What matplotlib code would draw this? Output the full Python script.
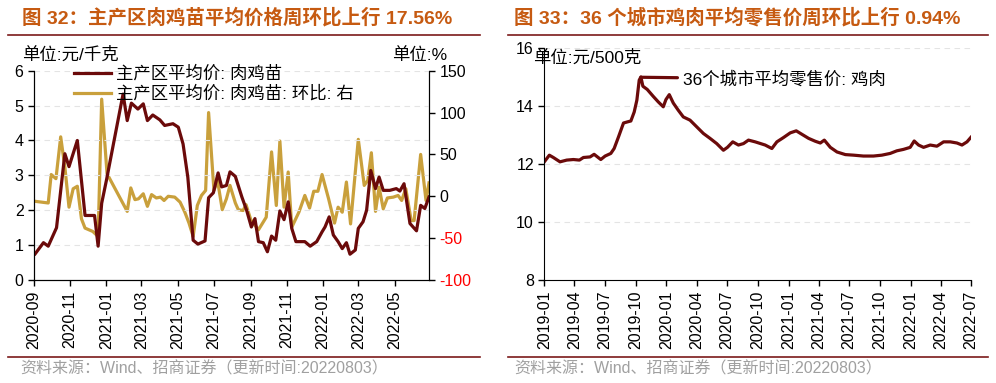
"""
Broiler chick price (main producing areas) and 36-city retail chicken price.
"""

import pandas as pd
import matplotlib
matplotlib.use("Agg")
import matplotlib.pyplot as plt
import matplotlib.dates as mdates

plt.rcParams['font.family'] = ['Liberation Sans', 'Noto Sans CJK SC']
plt.rcParams['axes.unicode_minus'] = False

# ---- left chart: chick price (yuan/kg) ----
chick_dates = [
    '2020-09-03', '2020-09-17', '2020-09-25', '2020-10-09', '2020-10-23', '2020-10-30',
    '2020-11-13', '2020-11-26', '2020-12-12', '2020-12-18', '2020-12-24', '2021-01-01',
    '2021-01-29', '2021-02-05', '2021-02-12', '2021-02-23', '2021-03-04', '2021-03-11',
    '2021-03-20', '2021-04-01', '2021-04-09', '2021-04-23', '2021-05-02', '2021-05-10',
    '2021-05-18', '2021-05-27', '2021-06-04', '2021-06-16', '2021-06-22', '2021-06-30',
    '2021-07-08', '2021-07-14', '2021-07-22', '2021-07-28', '2021-08-06', '2021-08-17',
    '2021-08-25', '2021-09-02', '2021-09-08', '2021-09-14', '2021-09-22', '2021-09-29',
    '2021-10-06', '2021-10-13', '2021-10-20', '2021-10-27', '2021-11-03', '2021-11-09',
    '2021-11-16', '2021-12-01', '2021-12-10', '2021-12-21', '2021-12-30', '2022-01-04',
    '2022-01-11', '2022-01-18', '2022-01-26', '2022-02-02', '2022-02-09', '2022-02-15',
    '2022-02-24', '2022-03-01', '2022-03-09', '2022-03-15', '2022-03-22', '2022-03-30',
    '2022-04-05', '2022-04-12', '2022-04-23', '2022-05-04', '2022-05-10', '2022-05-17',
    '2022-05-27', '2022-06-07', '2022-06-14', '2022-06-21', '2022-06-28',
]
chick_price = [
    0.75, 1.07, 0.97, 1.50, 3.62, 3.25,
    4.00, 1.85, 1.85, 0.97, 2.20, 2.86,
    5.33, 4.57, 5.07, 4.90, 5.05, 4.57,
    4.73, 4.59, 4.43, 4.48, 4.38, 3.90,
    2.95, 1.14, 1.03, 1.12, 2.36, 2.50,
    3.07, 2.67, 2.71, 3.10, 2.97, 2.38,
    2.00, 1.52, 1.76, 1.10, 1.07, 0.81,
    1.26, 1.14, 1.98, 1.73, 2.24, 1.48,
    1.10, 1.10, 0.97, 1.10, 1.38, 1.52,
    1.81, 1.29, 1.10, 0.90, 1.07, 0.74,
    0.86, 1.48, 1.67, 2.00, 3.14, 2.62,
    2.95, 2.57, 2.57, 2.62, 2.55, 2.76,
    1.62, 1.41, 2.14, 2.05, 2.38,
]

# week-on-week change (%), right axis
wow_dates = [
    '2020-09-03', '2020-09-25', '2020-09-30', '2020-10-08', '2020-10-16', '2020-10-23',
    '2020-10-30', '2020-11-06', '2020-11-13', '2020-11-20', '2020-11-26', '2020-12-09',
    '2020-12-18', '2020-12-24', '2021-01-02', '2021-02-05', '2021-02-11', '2021-02-18',
    '2021-02-24', '2021-03-04', '2021-03-11', '2021-03-18', '2021-03-26', '2021-04-02',
    '2021-04-08', '2021-04-15', '2021-04-26', '2021-05-05', '2021-05-13', '2021-05-20',
    '2021-05-27', '2021-06-03', '2021-06-10', '2021-06-17', '2021-06-22', '2021-07-01',
    '2021-07-07', '2021-07-15', '2021-07-22', '2021-07-28', '2021-08-06', '2021-08-11',
    '2021-08-19', '2021-08-24', '2021-09-01', '2021-09-14', '2021-09-27', '2021-10-06',
    '2021-10-14', '2021-10-20', '2021-10-27', '2021-11-03', '2021-11-09', '2021-11-21',
    '2021-12-01', '2021-12-09', '2021-12-16', '2021-12-23', '2021-12-30', '2022-01-10',
    '2022-01-20', '2022-01-26', '2022-02-02', '2022-02-09', '2022-02-16', '2022-03-01',
    '2022-03-11', '2022-03-17', '2022-03-23', '2022-03-30', '2022-04-05', '2022-04-12',
    '2022-04-19', '2022-04-29', '2022-05-07', '2022-05-13', '2022-05-20', '2022-05-29',
    '2022-06-03', '2022-06-14', '2022-06-23', '2022-06-28',
]
wow_pct = [
    -6, -8, 26, 21, 71, 35,
    -13, 9, 12, -27, -38, -42,
    -48, 116, 27, -18, 10, -4,
    -3, 3, -12, 2, -2, -1,
    -5, 0, -1, -7, -19, -32,
    -48, -11, 1, 7, 100, 7,
    19, -16, -3, 13, -8, -16,
    -17, -10, -28, -40, -25, 53,
    -11, 66, -13, 29, -37, -19,
    1, -14, 6, 6, 26, -3,
    -32, -13, -19, 17, -33, 68,
    13, 19, 52, -18, 11, -15,
    -2, -1, 1, -5, 9, -29,
    -29, 50, -5, 16,
]

# ---- right chart: 36-city average retail price, chicken (yuan/500g) ----
retail_dates = [
    '2019-01-01', '2019-01-16', '2019-01-28', '2019-02-17', '2019-03-09', '2019-03-29',
    '2019-04-16', '2019-04-28', '2019-05-18', '2019-05-30', '2019-06-09', '2019-06-19',
    '2019-07-02', '2019-07-19', '2019-07-29', '2019-08-11', '2019-08-26', '2019-09-07',
    '2019-09-17', '2019-09-27', '2019-10-05', '2019-10-12', '2019-10-17', '2019-10-23',
    '2019-11-05', '2019-11-23', '2019-12-08', '2019-12-23', '2019-12-31', '2020-01-10',
    '2020-01-22', '2020-02-06', '2020-02-21', '2020-03-12', '2020-04-01', '2020-04-21',
    '2020-05-11', '2020-05-31', '2020-06-20', '2020-07-02', '2020-07-18', '2020-08-04',
    '2020-08-19', '2020-09-03', '2020-09-23', '2020-10-23', '2020-11-12', '2020-11-27',
    '2020-12-17', '2021-01-06', '2021-01-24', '2021-02-10', '2021-03-02', '2021-03-22',
    '2021-04-06', '2021-04-18', '2021-05-06', '2021-05-26', '2021-06-20', '2021-07-15',
    '2021-08-13', '2021-09-12', '2021-10-07', '2021-11-01', '2021-11-21', '2021-12-11',
    '2021-12-31', '2022-01-12', '2022-01-25', '2022-02-09', '2022-03-01', '2022-03-21',
    '2022-04-10', '2022-04-30', '2022-05-20', '2022-06-04', '2022-06-19', '2022-07-01',
]
retail_price = [
    12.08, 12.31, 12.23, 12.08, 12.14, 12.16,
    12.14, 12.23, 12.25, 12.34, 12.25, 12.16,
    12.28, 12.37, 12.54, 12.94, 13.42, 13.46,
    13.49, 13.80, 14.21, 14.90, 15.01, 14.69,
    14.58, 14.34, 14.15, 13.98, 14.23, 14.40,
    14.11, 13.86, 13.63, 13.52, 13.29, 13.06,
    12.89, 12.71, 12.48, 12.58, 12.77, 12.66,
    12.71, 12.83, 12.77, 12.66, 12.54, 12.77,
    12.92, 13.08, 13.15, 13.03, 12.89, 12.79,
    12.73, 12.83, 12.58, 12.42, 12.33, 12.31,
    12.28, 12.28, 12.31, 12.37, 12.46, 12.51,
    12.58, 12.80, 12.66, 12.58, 12.66, 12.62,
    12.77, 12.77, 12.73, 12.66, 12.77, 12.93,
]

left_ticks = ['2020-09', '2020-11', '2021-01', '2021-03', '2021-05', '2021-07',
              '2021-09', '2021-11', '2022-01', '2022-03', '2022-05']
right_ticks = ['2019-01', '2019-04', '2019-07', '2019-10', '2020-01', '2020-04',
               '2020-07', '2020-10', '2021-01', '2021-04', '2021-07', '2021-10',
               '2022-01', '2022-04', '2022-07']

BROWN = '#6B0A0A'
GOLD = '#C9A03C'
TITLE_C = '#C65A11'
RULE_C = '#7B1A1A'
GRID_C = '#E4E4E4'
TICK_FS = 11.5
TEXT_FS = 12.5
LW = 2.3


def style_axis(ax):
    ax.spines['top'].set_visible(False)
    ax.tick_params(axis='both', labelsize=TICK_FS, direction='out', length=4, width=1)
    ax.tick_params(axis='x', rotation=90)
    ax.yaxis.grid(True, color=GRID_C, linestyle=(0, (5, 4)), linewidth=0.8)
    ax.set_axisbelow(True)


fig = plt.figure(figsize=(9.96, 3.83), dpi=100)

# ---------------- left ----------------
ax1 = fig.add_axes([0.0341, 0.2689, 0.3966, 0.5465])
ax2 = ax1.twinx()
ax1.set_zorder(ax2.get_zorder() + 1)
ax1.patch.set_visible(False)

d1 = pd.to_datetime(chick_dates)
d2 = pd.to_datetime(wow_dates)
l1, = ax1.plot(d1, chick_price, color=BROWN, lw=LW, label='主产区平均价: 肉鸡苗')
l2, = ax2.plot(d2, wow_pct, color=GOLD, lw=LW, label='主产区平均价: 肉鸡苗: 环比: 右')

ax1.set_ylim(0, 6)
ax1.set_yticks(range(0, 7))
ax2.set_ylim(-100, 150)
ax2.set_yticks(range(-100, 151, 50))
ax1.set_xlim(pd.Timestamp('2020-09-01'), pd.Timestamp('2022-06-28'))
ax1.set_xticks(pd.to_datetime(left_ticks))
ax1.xaxis.set_major_formatter(mdates.DateFormatter('%Y-%m'))
style_axis(ax1)
ax2.spines['top'].set_visible(False)
ax2.tick_params(axis='y', labelsize=TICK_FS, direction='out', length=4, width=1)
for lab, v in zip(ax2.get_yticklabels(), range(-100, 151, 50)):
    if v < 0:
        lab.set_color('red')

ax1.legend(handles=[l1, l2], loc='upper left', bbox_to_anchor=(0.085, 1.06),
           frameon=False, fontsize=TEXT_FS, handlelength=2.1, handletextpad=0.3,
           labelspacing=0.2, borderaxespad=0)

fig.text(22 / 996, 1 - 55 / 383, '单位:元/千克', fontsize=TEXT_FS, va='center', ha='left')
fig.text(447 / 996, 1 - 55 / 383, '单位:%', fontsize=TEXT_FS, va='center', ha='right')

# ---------------- right ----------------
ax3 = fig.add_axes([0.5465, 0.2689, 0.4284, 0.605])
d3 = pd.to_datetime(retail_dates)
ax3.plot(d3, retail_price, color=BROWN, lw=LW)
ax3.set_ylim(8, 16)
ax3.set_yticks(range(8, 17, 2))
ax3.set_xlim(pd.Timestamp('2019-01-01'), pd.Timestamp('2022-07-01'))
ax3.set_xticks(pd.to_datetime(right_ticks))
ax3.xaxis.set_major_formatter(mdates.DateFormatter('%Y-%m'))
style_axis(ax3)
ax3.spines['right'].set_visible(False)

peak_i = retail_price.index(max(retail_price))
ax3.annotate('36个城市平均零售价: 鸡肉', xy=(d3[peak_i], 15.0), xycoords='data',
             xytext=(683 / 996, 1 - 79 / 383), textcoords='figure fraction',
             fontsize=TEXT_FS, va='center', ha='left',
             arrowprops=dict(arrowstyle='-', color=BROWN, lw=LW,
                             shrinkA=2, shrinkB=0))

fig.text(533 / 996, 1 - 58 / 383, '单位:元/500克', fontsize=TEXT_FS, va='center', ha='left')

# ---------------- titles / rules / sources ----------------
fig.text(22 / 996, 1 - 18 / 383, '图 32：主产区肉鸡苗平均价格周环比上行 17.56%',
         fontsize=14, fontweight='bold', color=TITLE_C, va='center', ha='left')
fig.text(514 / 996, 1 - 18 / 383, '图 33：36 个城市鸡肉平均零售价周环比上行 0.94%',
         fontsize=14, fontweight='bold', color=TITLE_C, va='center', ha='left')

for x0, x1 in [(8, 480), (508, 988)]:
    fig.add_artist(plt.Line2D([x0 / 996, x1 / 996], [1 - 34.5 / 383] * 2,
                              color=RULE_C, lw=1.2))
    fig.add_artist(plt.Line2D([x0 / 996, x1 / 996], [1 - 356.5 / 383] * 2,
                              color=RULE_C, lw=1.2))

src = '资料来源：Wind、招商证券（更新时间:20220803）'
fig.text(20 / 996, 1 - 369 / 383, src, fontsize=11.5, color='#A0A0A0', va='center', ha='left')
fig.text(514 / 996, 1 - 369 / 383, src, fontsize=11.5, color='#A0A0A0', va='center', ha='left')

fig.savefig('out.png', dpi=100)
